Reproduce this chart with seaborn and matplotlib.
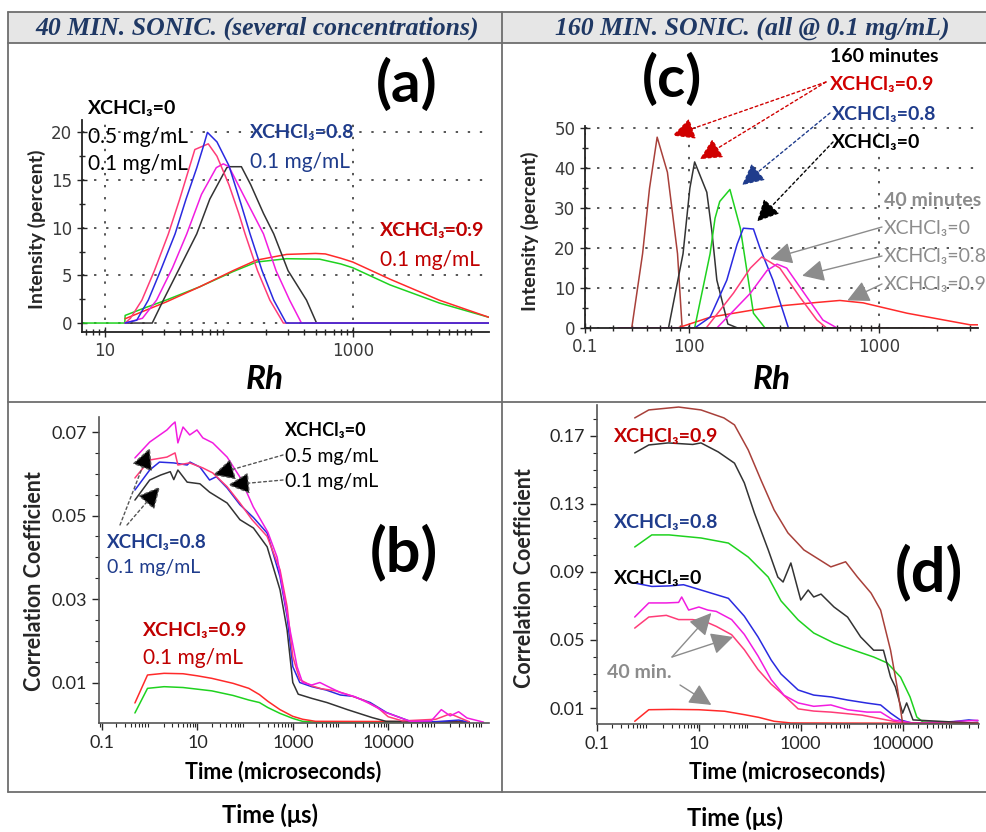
import pandas as pd
import matplotlib
matplotlib.use("Agg")
import matplotlib.pyplot as plt
import seaborn as sns
from matplotlib.ticker import FixedLocator, MultipleLocator, NullFormatter, LogLocator
from matplotlib.patches import Rectangle
from matplotlib.lines import Line2D

# ---------------- panel (a): 40 min sonication, intensity vs Rh ----------------
a_rh_green = [6.5, 14.4, 14.5, 20, 31, 58, 108, 167, 292, 540, 800, 1000, 2000, 5000, 12600]
a_int_green = [0, 0, 0.8, 1.5, 2.4, 3.8, 5.4, 6.4, 6.75, 6.7, 6.2, 5.8, 4.0, 2.1, 0.6]
a_rh_red = [14.5, 20, 31, 58, 108, 167, 292, 500, 600, 800, 1000, 2000, 5000, 12600]
a_int_red = [0.45, 1.2, 2.2, 3.8, 5.5, 6.6, 7.2, 7.3, 7.25, 6.8, 6.4, 4.6, 2.4, 0.6]
a_rh_black = [14.5, 24, 29.5, 40, 54.9, 70, 96, 102, 126, 150, 190, 230, 300, 423, 510, 12600]
a_int_black = [0, 0, 2.4, 5.8, 9.35, 13, 16.3, 16.4, 16.4, 14.5, 11.5, 9.35, 5.5, 2.4, 0, 0]
a_rh_magenta = [14.5, 20, 26, 35, 45.6, 60, 79, 90, 100, 130, 190, 240, 309, 385, 12600]
a_int_magenta = [0, 0.5, 2.4, 5.8, 9.35, 13.5, 16.3, 16.7, 16.4, 13.5, 9.35, 5.5, 2.4, 0, 0]
a_rh_pink = [14.5, 16, 19.8, 25, 32.4, 40, 53, 68, 80, 100, 120, 135, 170, 214, 275, 12600]
a_int_pink = [0, 0.5, 2.4, 5.5, 9.35, 13, 18.2, 18.8, 17.5, 14.5, 11.5, 9.35, 5.5, 2.4, 0, 0]
a_rh_blue = [14.5, 18, 22.3, 28, 36.7, 45, 55, 62, 67, 80, 100, 125, 148, 185, 230, 290, 12600]
a_int_blue = [0, 0.3, 2.4, 5.5, 9.35, 13.0, 16.3, 18.5, 20.0, 19.0, 16.5, 12.5, 9.35, 5.5, 2.4, 0, 0]

# ---------------- panel (c): 160 min sonication ----------------
c_rh_brown = [42.5, 50, 57, 62, 68, 77, 87, 92, 3300]
c_int_brown = [0, 0, 18.6, 35, 47.8, 39, 18.6, 0, 0]
c_rh_black = [78, 93, 101, 107, 124, 132, 140, 160, 180]
c_int_black = [0, 18.6, 35, 41.6, 34, 24, 12, 1, 0]
c_rh_green = [107, 129, 137, 145, 164, 186, 218, 251]
c_int_green = [0, 18.6, 27.5, 31.7, 34.7, 25, 3.7, 0]
c_rh_blue = [107, 129, 158, 179, 193, 218, 236, 276, 333]
c_int_blue = [0, 2.7, 12, 21, 25, 24.8, 20, 12, 0]
c_rh_pink = [42.5, 123, 171, 210, 241, 300, 383, 470, 528]
c_int_pink = [0, 0, 8.7, 15, 17.8, 15, 7.7, 2, 0]
c_rh_magenta = [42.5, 140, 210, 257, 290, 326, 417, 505, 600]
c_int_magenta = [0, 0, 8.7, 14.4, 16, 15, 7.7, 2, 0]
c_rh_red = [87, 129, 210, 310, 470, 620, 822, 1400, 3000, 3300]
c_int_red = [0, 2.7, 4.4, 5.6, 6.4, 6.9, 6.3, 3.7, 0.8, 0.8]

# ---------------- panel (b): 40 min, correlation vs time ----------------
b_t_magenta = [0.49, 1.0, 2.3, 2.9, 3.4, 3.9, 5.0, 6.9, 9.8, 13, 21, 42, 78, 148, 300, 470, 870, 1230,
               1600, 2500, 3700, 6000, 1e4, 2e4, 4e4, 9e4, 2.9e5, 8e5, 1.3e6, 2e6, 3e6, 4.5e6, 1e7]
b_c_magenta = [0.0638, 0.0676, 0.0705, 0.0717, 0.0724, 0.0674, 0.0712, 0.0693, 0.0705, 0.0686, 0.0674,
               0.0640, 0.0592, 0.0521, 0.0460, 0.0400, 0.0227, 0.0138, 0.0100, 0.0094, 0.0100, 0.0088,
               0.0076, 0.0066, 0.0050, 0.0028, 0.0007, 0.0008, 0.0035, 0.0020, 0.0030, 0.0015, 0.0005]
b_t_pink = [0.49, 1.0, 2.3, 3.4, 3.9, 6.9, 13, 21, 42, 78, 140, 290, 540, 760, 1000, 1400, 2500, 4000,
            8000, 1.5e4, 3e4, 6e4, 1e5, 2e5, 1e6, 2e6, 5e6]
b_c_pink = [0.0590, 0.0633, 0.0640, 0.0650, 0.0621, 0.0626, 0.0614, 0.0602, 0.0569, 0.0530, 0.0490,
            0.0450, 0.0370, 0.0282, 0.0162, 0.0107, 0.0092, 0.0085, 0.0080, 0.0070, 0.0058, 0.0040,
            0.0018, 0.0008, 0.0012, 0.0025, 0.0006]
b_t_blue = [0.49, 1.0, 1.6, 3.2, 6.1, 7.0, 11.3, 18, 25, 42, 78, 150, 290, 540, 760, 1000, 1400, 2500,
            5000, 1e4, 1.8e4, 4.2e4, 9.3e4, 2.9e5, 1e6, 3e6, 5e6]
b_c_blue = [0.0561, 0.0609, 0.0628, 0.0626, 0.0621, 0.0628, 0.0616, 0.0585, 0.0593, 0.0566, 0.0526,
            0.0495, 0.0458, 0.0353, 0.0258, 0.0138, 0.0100, 0.0090, 0.0082, 0.0070, 0.0067, 0.0052,
            0.0028, 0.0007, 0.0006, 0.0010, 0.0005]
b_t_black = [0.49, 1.0, 1.7, 2.7, 3.2, 3.9, 6.1, 11.3, 18, 42, 78, 150, 290, 540, 760, 1000, 1300, 2500,
             5200, 1.4e4, 4.6e4, 9e4, 1e6, 5e6]
b_c_black = [0.0537, 0.0585, 0.0597, 0.0605, 0.0586, 0.0609, 0.0580, 0.0576, 0.0556, 0.0530, 0.0490,
             0.0470, 0.0425, 0.0322, 0.0226, 0.0100, 0.0072, 0.0062, 0.0052, 0.0035, 0.0016, 0.0007,
             0.0006, 0.0005]
b_t_red = [0.49, 0.9, 2, 5, 10, 20, 56, 120, 200, 300, 540, 1000, 1600, 3000, 5e6]
b_c_red = [0.0051, 0.0118, 0.0122, 0.0121, 0.0116, 0.0110, 0.0098, 0.0086, 0.0071, 0.0055, 0.0035,
           0.0019, 0.0012, 0.0007, 0.0006]
b_t_green = [0.49, 0.9, 2, 5, 10, 20, 56, 120, 200, 300, 540, 1000, 1600, 3000, 5e6]
b_c_green = [0.0027, 0.0086, 0.0090, 0.0088, 0.0084, 0.0080, 0.0069, 0.0058, 0.0052, 0.0040, 0.0026,
             0.0014, 0.0007, 0.0005, 0.0005]

# ---------------- panel (d): 160 min, correlation vs time ----------------
d_t_brown = [0.55, 1.04, 4.0, 11, 31, 50, 93, 166, 300, 560, 1000, 1150, 3900, 7600, 1.3e4, 2.4e4,
             3.7e4, 5.8e4, 8e4, 1e5, 3e6]
d_c_brown = [0.1806, 0.1853, 0.1870, 0.1853, 0.1806, 0.1765, 0.1618, 0.1440, 0.1265, 0.1130, 0.1050,
             0.1030, 0.0930, 0.0960, 0.0870, 0.0776, 0.0676, 0.0440, 0.0206, 0.0010, 0.0010]
d_t_black = [0.55, 1.04, 2.5, 7.6, 11, 24, 50, 78, 123, 230, 355, 450, 640, 1000, 1400, 1800, 2500,
             4500, 8300, 1.5e4, 2.7e4, 4.2e4, 5.8e4, 7.2e4, 1e5, 1.2e5, 1.6e5, 3e6]
d_c_black = [0.1600, 0.1647, 0.1659, 0.1650, 0.1659, 0.1606, 0.1540, 0.1424, 0.1247, 0.1030, 0.0870,
             0.0841, 0.0953, 0.0735, 0.0794, 0.0753, 0.0770, 0.0694, 0.0635, 0.0518, 0.0440, 0.0440,
             0.0282, 0.0224, 0.0070, 0.0130, 0.0030, 0.0010]
d_t_green = [0.55, 1.19, 2.6, 11, 38, 93, 230, 410, 890, 1800, 4500, 1.1e4, 2.7e4, 5e4, 9.1e4, 1.4e5,
             1.9e5, 2.5e5, 3e6]
d_c_green = [0.1047, 0.1118, 0.1118, 0.1100, 0.1070, 0.0988, 0.0870, 0.0730, 0.0618, 0.0541, 0.0482,
             0.0440, 0.0400, 0.0365, 0.0282, 0.0165, 0.0047, 0.0018, 0.0012]
d_t_blue = [0.55, 1.19, 2.6, 5, 11, 38, 78, 145, 263, 410, 890, 1800, 4000, 8300, 2e4, 3.7e4, 5.8e4,
            9e4, 1.6e5, 1e6, 2e6, 3e6]
d_c_blue = [0.0835, 0.0815, 0.0818, 0.0825, 0.0794, 0.0745, 0.0640, 0.0518, 0.0382, 0.0300, 0.0206,
            0.0176, 0.0165, 0.0147, 0.0129, 0.0118, 0.0070, 0.0030, 0.0010, 0.0020, 0.0030, 0.0025]
d_t_magenta = [0.55, 1.04, 2.3, 4.0, 4.6, 6.3, 10, 15, 22, 44, 78, 145, 263, 470, 890, 1800, 3900,
               8300, 2e4, 3.7e4, 6.6e4, 1.6e5, 1e6, 3e6]
d_c_magenta = [0.0635, 0.0718, 0.0718, 0.0721, 0.0753, 0.0676, 0.0694, 0.0676, 0.0668, 0.0620, 0.0533,
               0.0406, 0.0267, 0.0175, 0.0130, 0.0110, 0.0118, 0.0090, 0.0076, 0.0076, 0.0029, 0.0012,
               0.0020, 0.0028]
d_t_pink = [0.55, 1.04, 2.3, 4.0, 7.5, 13, 22, 44, 78, 145, 263, 410, 890, 1800, 3900, 1.6e4, 4.8e4,
            1e5, 1e6, 3e6]
d_c_pink = [0.0570, 0.0635, 0.0645, 0.0620, 0.0620, 0.0610, 0.0580, 0.0531, 0.0443, 0.0326, 0.0240,
            0.0190, 0.0095, 0.0082, 0.0076, 0.0058, 0.0030, 0.0012, 0.0010, 0.0015]
d_t_red = [0.55, 1.04, 3, 10, 32, 78, 150, 300, 640, 3e6]
d_c_red = [0.0022, 0.0090, 0.0092, 0.0090, 0.0081, 0.0061, 0.0045, 0.0022, 0.0012, 0.0010]

COL = {"black": "#333333", "blue": "#2a2ae0", "pink": "#ff3c78", "magenta": "#f21ce0",
       "red": "#ff2a2a", "green": "#1fd21f", "brown": "#a8403a"}
DARKRED = "#c00000"
NAVY = "#1f3c8c"
GRAY = "#8c8c8c"

W, H = 987, 832
sns.set_style("ticks")
plt.rcParams["font.family"] = ["Lato", "DejaVu Sans"]
fig = plt.figure(figsize=(W / 100, H / 100), dpi=100)


def fxy(px, py):
    return (px / W, 1 - py / H)


def add_ax(l, t, r, b):
    return fig.add_axes([l / W, 1 - b / H, (r - l) / W, (b - t) / H])


def draw(ax, curves):
    for xs, ys, color in curves:
        df = pd.DataFrame({"x": xs, "y": ys})
        sns.lineplot(data=df, x="x", y="y", ax=ax, color=color, lw=1.1,
                     estimator=None, sort=False, legend=False)
    ax.set_xlabel("")
    ax.set_ylabel("")
    sns.despine(ax=ax)


def txt(px, py, s, size=14, color="black", weight="normal", ha="left", style="normal", family=None):
    fig.text(*fxy(px, py), s, fontsize=size, color=color, weight=weight, ha=ha, va="center",
             style=style, family=family or ["Lato", "DejaVu Sans"])


def arrow(ax, head, tail, color, ls=(0, (2, 2)), line=None):
    ax.annotate("", xy=head, xycoords="data", xytext=fxy(*tail), textcoords="figure fraction",
                arrowprops=dict(arrowstyle="-|>,head_length=0.9,head_width=0.45",
                                facecolor=color, edgecolor=line or color,
                                lw=1.0, linestyle=ls, mutation_scale=15, shrinkA=0, shrinkB=0))


# ---- table frame ----
fig.add_artist(Rectangle(fxy(8, 43), (W - 8) / W, 31 / H, transform=fig.transFigure,
                         facecolor="#e6e6e6", edgecolor="none"))
for (x0, y0, x1, y1) in [(8, 12, W, 12), (8, 43, W, 43), (8, 402, W, 402), (8, 792, W, 792),
                         (8, 12, 8, 792), (502, 12, 502, 792)]:
    fig.add_artist(Line2D([x0 / W, x1 / W], [1 - y0 / H, 1 - y1 / H], transform=fig.transFigure,
                          color="#6e6e6e", lw=1.3))
hdr = dict(size=18.5, color="#1f3864", weight="bold", ha="center", style="italic", family="Liberation Serif")
txt(257, 28, "40 MIN. SONIC. (several concentrations)", **hdr)
txt(752, 28, "160 MIN. SONIC. (all @ 0.1 mg/mL)", **hdr)


def style_top(ax, xt, xl, ylim, ymaj, ymin):
    ax.set_xscale("log")
    ax.set_ylim(*ylim)
    ax.yaxis.set_major_locator(MultipleLocator(ymaj))
    ax.yaxis.set_minor_locator(MultipleLocator(ymin))
    ax.xaxis.set_major_locator(FixedLocator(xt))
    ax.set_xticklabels(xl)
    ax.xaxis.set_minor_locator(LogLocator(subs=(2, 3, 4, 5, 6, 7, 8, 9)))
    ax.xaxis.set_minor_formatter(NullFormatter())
    ax.grid(True, which="major", color="#555555", linestyle=(0, (1.2, 5)), lw=1.4)
    ax.tick_params(which="major", direction="inout", length=7, width=1, labelsize=12,
                   labelcolor="#3a3a3a", labelfontfamily="DejaVu Sans")
    ax.tick_params(which="minor", direction="inout", length=5, width=1)
    for s in ("left", "bottom"):
        ax.spines[s].set_color("#222222")
        ax.spines[s].set_linewidth(1.3)


def style_bottom(ax, ylim, yt, ymin, xlim):
    ax.set_xscale("log")
    ax.set_xlim(*xlim)
    ax.set_ylim(*ylim)
    ax.yaxis.set_major_locator(FixedLocator(yt))
    ax.yaxis.set_minor_locator(MultipleLocator(ymin))
    ax.set_yticklabels([f"{v:.2f}" for v in yt])
    ax.xaxis.set_minor_locator(LogLocator(subs=(2, 3, 4, 5, 6, 7, 8, 9), numticks=30))
    ax.xaxis.set_minor_formatter(NullFormatter())
    ax.tick_params(which="major", direction="out", length=5, width=1, labelsize=13)
    ax.tick_params(which="minor", direction="out", length=3, width=0.8)
    for s in ("left", "bottom"):
        ax.spines[s].set_color("#555555")
        ax.spines[s].set_linewidth(1.2)


# ---- panel (a) ----
ax_a = add_ax(82, 120, 489, 332)
ax_a.set_xscale("log")
draw(ax_a, [(a_rh_green, a_int_green, COL["green"]), (a_rh_red, a_int_red, COL["red"]),
            (a_rh_black, a_int_black, COL["black"]), (a_rh_magenta, a_int_magenta, COL["magenta"]),
            (a_rh_pink, a_int_pink, COL["pink"]), (a_rh_blue, a_int_blue, COL["blue"])])
ax_a.set_xlim(6.5, 12600)
style_top(ax_a, [10, 1000], ["10", "1000"], (-0.94, 21.3), 5, 2.5)

txt(407, 85, "(a)", size=42, weight="bold", ha="center")
txt(88, 108, "XCHCl₃=0", weight="bold")
txt(88, 137, "0.5 mg/mL", size=15)
txt(88, 164, "0.1 mg/mL", size=15)
txt(250, 132, "XCHCl₃=0.8", weight="bold", color=NAVY)
txt(250, 162, "0.1 mg/mL", size=15, color=NAVY)
txt(380, 231, "XCHCl₃=0.9", weight="bold", color=DARKRED)
txt(380, 260, "0.1 mg/mL", size=15, color=DARKRED)
txt(265, 380, "Rh", size=24, weight="bold", ha="center", style="italic")
fig.text(*fxy(37, 229), "Intensity (percent)", rotation=90, fontsize=14, weight="bold",
         ha="center", va="center")

# ---- panel (c) ----
ax_c = add_ax(585, 126, 978, 328)
ax_c.set_xscale("log")
draw(ax_c, [(c_rh_brown, c_int_brown, COL["brown"]), (c_rh_red, c_int_red, COL["red"]),
            (c_rh_black, c_int_black, COL["black"]), (c_rh_green, c_int_green, COL["green"]),
            (c_rh_blue, c_int_blue, COL["blue"]), (c_rh_pink, c_int_pink, COL["pink"]),
            (c_rh_magenta, c_int_magenta, COL["magenta"])])
ax_c.set_xlim(28.4, 3300)
style_top(ax_c, [28.4, 100, 1000], ["0.1", "100", "1000"], (0, 50.6), 10, 5)

txt(672, 80, "(c)", size=42, weight="bold", ha="center")
txt(830, 57, "160 minutes", weight="bold")
txt(830, 85, "XCHCl₃=0.9", weight="bold", color="#d00000")
txt(832, 114, "XCHCl₃=0.8", weight="bold", color=NAVY)
txt(832, 142, "XCHCl₃=0", weight="bold")
txt(884, 200, "40 minutes", weight="bold", color=GRAY)
txt(884, 228, "XCHCl₃=0", color=GRAY, size=14)
txt(884, 256, "XCHCl₃=0.8", color=GRAY, size=14)
txt(884, 285, "XCHCl₃=0.9", color=GRAY, size=14)
arrow(ax_c, (82, 48.2), (826, 82), "#d00000")
arrow(ax_c, (114, 42.3), (826, 82), "#d00000")
arrow(ax_c, (190, 35.8), (830, 113), NAVY)
arrow(ax_c, (228, 26.7), (833, 142), "black")
arrow(ax_c, (267, 17.3), (882, 227), GRAY, ls="-")
arrow(ax_c, (393, 13.1), (882, 256), GRAY, ls="-")
arrow(ax_c, (679, 6.9), (882, 284), GRAY, ls="-")
txt(772, 380, "Rh", size=24, weight="bold", ha="center", style="italic")
fig.text(*fxy(530, 231), "Intensity (percent)", rotation=90, fontsize=14, weight="bold",
         ha="center", va="center")

# ---- panel (b) ----
ax_b = add_ax(99, 417, 489, 723)
ax_b.set_xscale("log")
draw(ax_b, [(b_t_green, b_c_green, COL["green"]), (b_t_red, b_c_red, COL["red"]),
            (b_t_black, b_c_black, COL["black"]), (b_t_blue, b_c_blue, COL["blue"]),
            (b_t_pink, b_c_pink, COL["pink"]), (b_t_magenta, b_c_magenta, COL["magenta"])])
style_bottom(ax_b, (0.0003, 0.0736), [0.01, 0.03, 0.05, 0.07], 0.005, (0.0865, 1.3e7))
ax_b.xaxis.set_major_locator(FixedLocator([0.1, 10, 1000, 1e5]))
ax_b.set_xticklabels(["0.1", "10", "1000", "10000"])

txt(404, 552, "(b)", size=44, weight="bold", ha="center")
txt(285, 431, "XCHCl₃=0", weight="bold", size=13)
txt(285, 456, "0.5 mg/mL", size=14)
txt(285, 481, "0.1 mg/mL", size=14)
txt(107, 542, "XCHCl₃=0.8", weight="bold", color=NAVY, size=13.5)
txt(107, 567, "0.1 mg/mL", size=14, color=NAVY)
txt(143, 630, "XCHCl₃=0.9", weight="bold", color=DARKRED)
txt(143, 658, "0.1 mg/mL", size=15, color=DARKRED)
arrow(ax_b, (21.2, 0.0597), (283, 455), "black", line="#555555")
arrow(ax_b, (43.7, 0.0573), (283, 480), "black", line="#555555")
arrow(ax_b, (1.01, 0.0662), (120, 525), "black", line="#555555")
arrow(ax_b, (1.64, 0.0569), (127, 525), "black", line="#555555")
txt(283, 772, "Time (microseconds)", size=15.5, weight="bold", ha="center")
fig.text(*fxy(35, 581), "Correlation Coefficient", rotation=90, fontsize=15.5, weight="bold",
         ha="center", va="center")

# ---- panel (d) ----
ax_d = add_ax(597, 405, 979, 724)
ax_d.set_xscale("log")
draw(ax_d, [(d_t_red, d_c_red, COL["red"]), (d_t_green, d_c_green, COL["green"]),
            (d_t_blue, d_c_blue, COL["blue"]), (d_t_pink, d_c_pink, COL["pink"]),
            (d_t_magenta, d_c_magenta, COL["magenta"]), (d_t_black, d_c_black, COL["black"]),
            (d_t_brown, d_c_brown, COL["brown"])])
style_bottom(ax_d, (0.0006, 0.1882), [0.01, 0.05, 0.09, 0.13, 0.17], 0.01, (0.1, 3.16e6))
ax_d.xaxis.set_major_locator(FixedLocator([0.1, 10, 1000, 1e5]))
ax_d.set_xticklabels(["0.1", "10", "1000", "100000"])

txt(929, 572, "(d)", size=44, weight="bold", ha="center")
txt(614, 436, "XCHCl₃=0.9", weight="bold", color=DARKRED)
txt(614, 522, "XCHCl₃=0.8", weight="bold", color=NAVY)
txt(614, 578, "XCHCl₃=0", weight="bold")
txt(607, 673, "40 min.", weight="bold", color=GRAY)
arrow(ax_d, (17.6, 0.0659), (672, 657), GRAY, ls="-")
arrow(ax_d, (47, 0.0518), (672, 657), GRAY, ls="-")
arrow(ax_d, (17.6, 0.0118), (680, 685), GRAY, ls="-")
txt(787, 772, "Time (microseconds)", size=15.5, weight="bold", ha="center")
fig.text(*fxy(525, 578), "Correlation Coefficient", rotation=90, fontsize=15.5, weight="bold",
         ha="center", va="center")

# ---- captions under the table ----
txt(270, 815, "Time (μs)", size=17, weight="bold", ha="center")
txt(735, 818, "Time (μs)", size=17, weight="bold", ha="center")

fig.savefig("out.png", dpi=100)
